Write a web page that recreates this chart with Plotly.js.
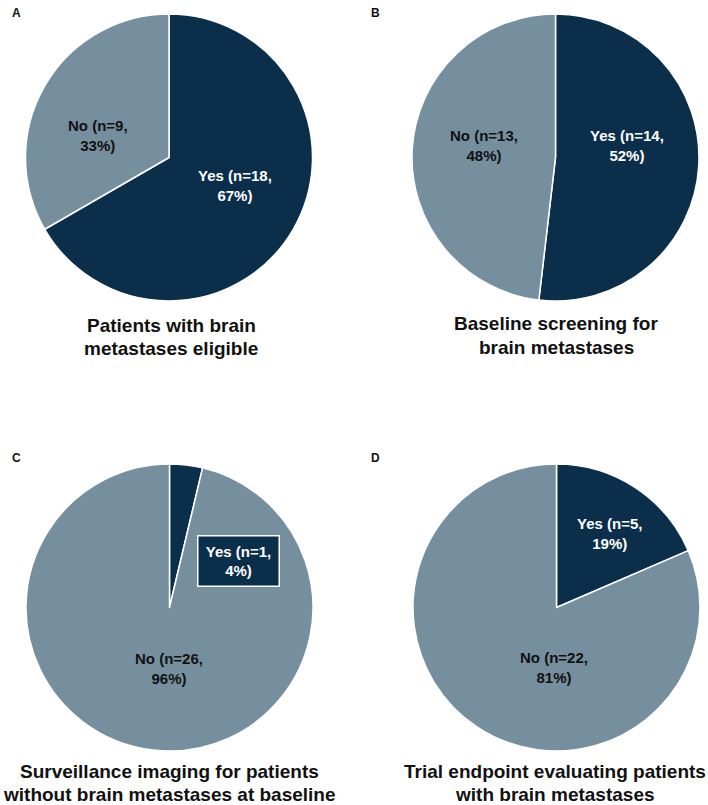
<!DOCTYPE html>
<html>
<head>
<meta charset="utf-8">
<script src="https://cdn.plot.ly/plotly-3.0.1.min.js"></script>
<style>html,body{margin:0;padding:0;background:#fff;}#chart{width:708px;height:805px;}</style>
</head>
<body>
<div id="chart"></div>
<script>
// ---- data ----
const panelLetters = ['A', 'B', 'C', 'D'];
const panelTitles = [
  'Patients with brain<br>metastases eligible',
  'Baseline screening for<br>brain metastases',
  'Surveillance imaging for patients<br>without brain metastases at baseline',
  'Trial endpoint evaluating patients<br>with brain metastases'
];
const sliceLabels = ['Yes', 'No'];
const yesCounts = [18, 14, 1, 5];
const noCounts = [9, 13, 26, 22];
const yesPercents = [67, 52, 4, 19];
const noPercents = [33, 48, 96, 81];

// ---- layout helpers ----
const W = 708, H = 805;
const NAVY = '#0b2e4a', GREY = '#768f9f', INK = '#111111';
const FONT = 'Liberation Sans, Arial, Helvetica, sans-serif';
const px = x => x / W;
const py = y => 1 - y / H;

const pieGeom = [
  {cx: 169, cy: 157.5, r: 143.5},
  {cx: 555.5, cy: 157.5, r: 143.5},
  {cx: 169.5, cy: 607.5, r: 143.5},
  {cx: 556.5, cy: 607.5, r: 143.5}
];
const letterPos = [[16, 13], [375, 13], [16, 458], [375, 458]];
// title line centres: [x, yLine1]; second line 23px lower
const titlePos = [[171, 325], [556, 324], [169, 771], [555, 771]];
const TITLE_LINE_GAP = 23;
// label centres (Yes, No) per panel
const yesPos = [[235, 185], [627, 145], [238.5, 561], [609, 533]];
const noPos = [[98, 135], [484, 145], [169, 668], [554, 667]];

const traces = [];
const annotations = [];

for (let i = 0; i < 4; i++) {
  const g = pieGeom[i];
  traces.push({
    type: 'pie',
    values: [yesCounts[i], noCounts[i]],
    labels: sliceLabels,
    sort: false,
    direction: 'clockwise',
    rotation: 0,
    textinfo: 'none',
    hoverinfo: 'label+value+percent',
    marker: {colors: [NAVY, GREY], line: {color: '#ffffff', width: 1.5}},
    domain: {x: [px(g.cx - g.r), px(g.cx + g.r)], y: [py(g.cy + g.r), py(g.cy - g.r)]},
    showlegend: false
  });

  annotations.push({
    text: '<b>' + panelLetters[i] + '</b>', x: px(letterPos[i][0]), y: py(letterPos[i][1]),
    xref: 'paper', yref: 'paper', xanchor: 'center', yanchor: 'middle', showarrow: false,
    font: {family: FONT, size: 12, color: INK}
  });
  panelTitles[i].split('<br>').forEach((line, k) => {
    annotations.push({
      text: '<b>' + line + '</b>', x: px(titlePos[i][0]), y: py(titlePos[i][1] + k * TITLE_LINE_GAP),
      xref: 'paper', yref: 'paper', xanchor: 'center', yanchor: 'middle', showarrow: false,
      font: {family: FONT, size: 19, color: INK}
    });
  });

  const yesText = '<b>' + sliceLabels[0] + ' (n=' + yesCounts[i] + ',<br>' + yesPercents[i] + '%)</b>';
  const noText = '<b>' + sliceLabels[1] + ' (n=' + noCounts[i] + ',<br>' + noPercents[i] + '%)</b>';
  const yesAnn = {
    text: yesText, x: px(yesPos[i][0]), y: py(yesPos[i][1]),
    xref: 'paper', yref: 'paper', xanchor: 'center', yanchor: 'middle', showarrow: false,
    font: {family: FONT, size: 15, color: '#ffffff'}
  };
  if (i === 2) {
    yesAnn.bgcolor = NAVY;
    yesAnn.bordercolor = '#ffffff';
    yesAnn.borderwidth = 1.5;
    yesAnn.borderpad = 1;
    yesAnn.width = 78;
    yesAnn.height = 47;
  }
  annotations.push(yesAnn);
  annotations.push({
    text: noText, x: px(noPos[i][0]), y: py(noPos[i][1]),
    xref: 'paper', yref: 'paper', xanchor: 'center', yanchor: 'middle', showarrow: false,
    font: {family: FONT, size: 15, color: INK}
  });
}

const layout = {
  width: W, height: H,
  margin: {l: 0, r: 0, t: 0, b: 0},
  paper_bgcolor: '#ffffff',
  font: {family: FONT, color: INK},
  annotations: annotations,
  showlegend: false
};

Plotly.newPlot('chart', traces, layout, {displayModeBar: false, staticPlot: true});
</script>
</body>
</html>
